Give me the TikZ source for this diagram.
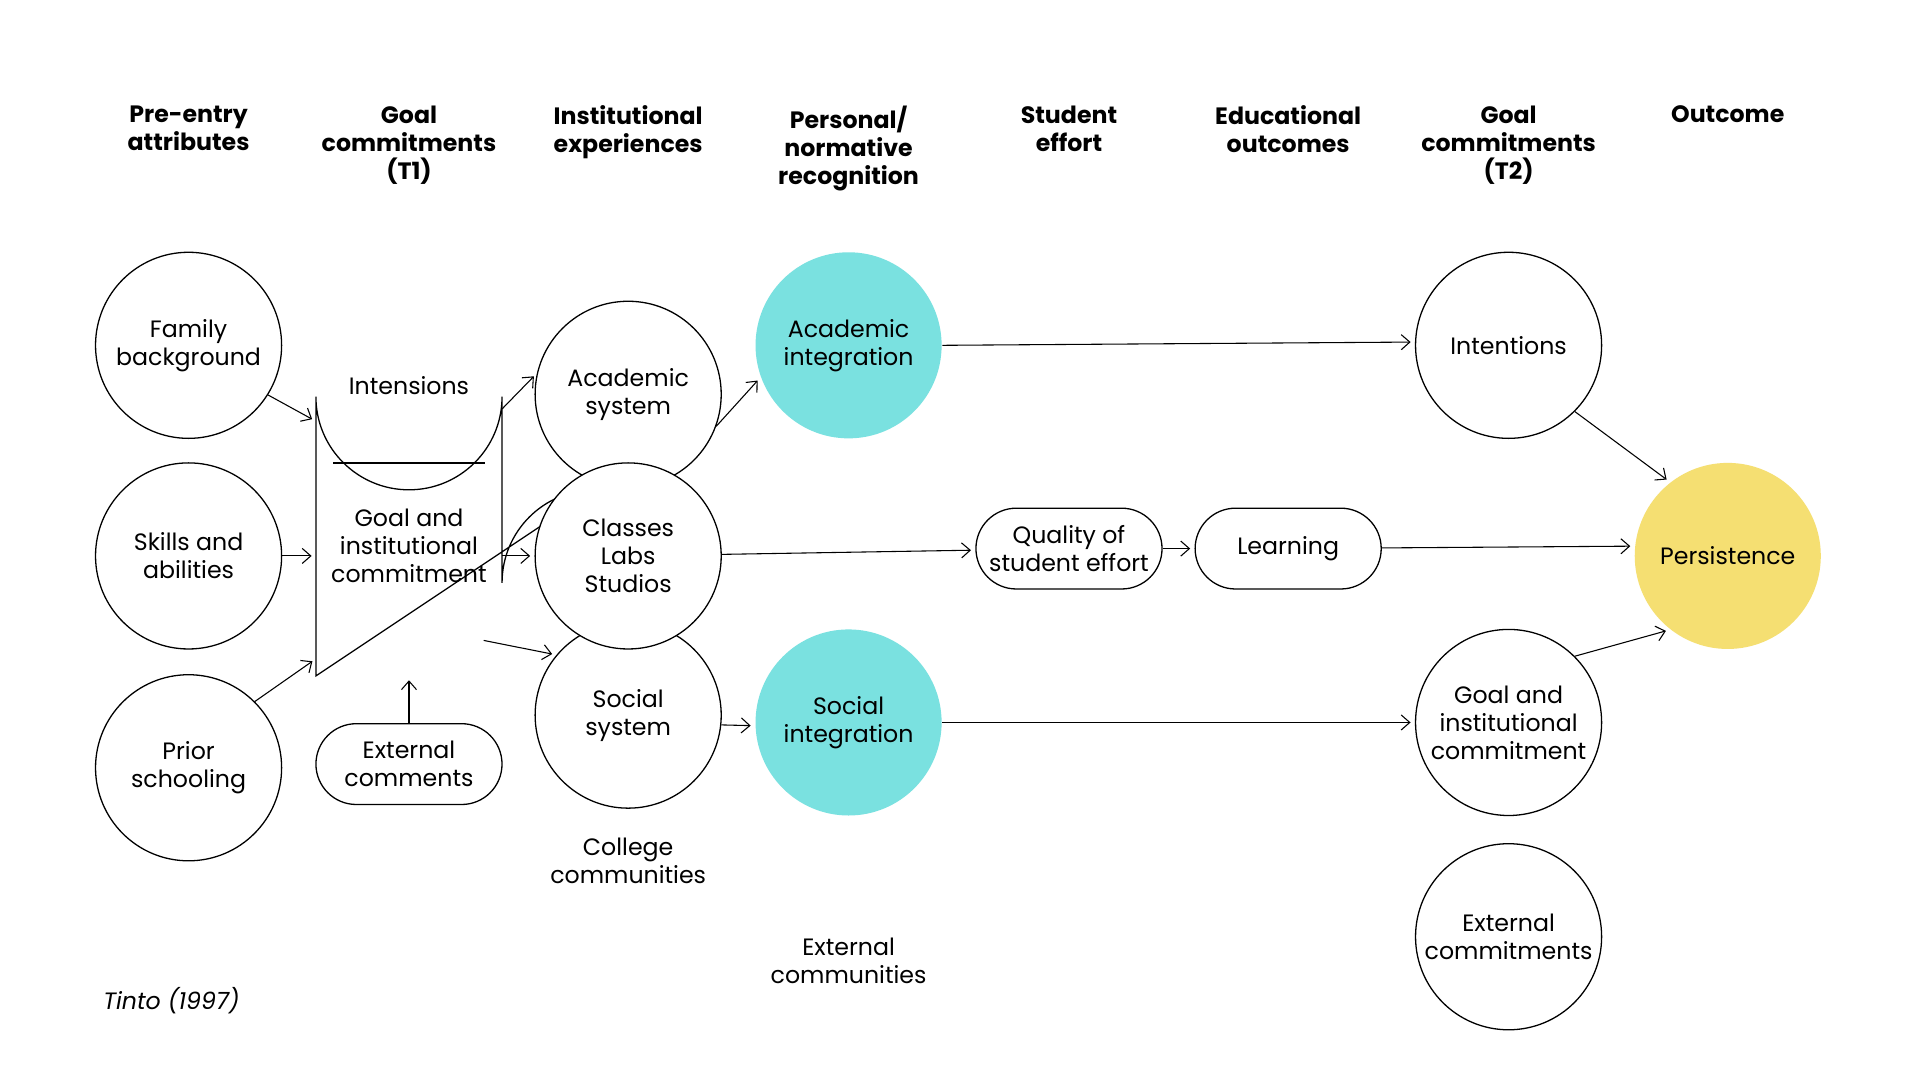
\documentclass[tikz,border=0pt]{standalone}
\usepackage{fontspec}
\setmainfont{Poppins}
\usetikzlibrary{arrows.meta}
\definecolor{integ}{HTML}{7AE1E0}
\definecolor{persist}{HTML}{F5DF72}
\begin{document}
\begin{tikzpicture}[x=0.02cm,y=-0.02cm,
  every node/.style={font=\fontsize{11}{13}\selectfont,align=center},
  circ/.style={shape=circle,draw=black,fill=white,minimum size=3.04cm,inner sep=0pt},
  pill/.style={shape=rectangle,draw=black,fill=white,rounded corners=0.66cm,minimum width=3.04cm,minimum height=1.32cm,inner sep=0pt},
  head/.style={font=\fontsize{11}{13}\selectfont\bfseries,anchor=north},
  flow/.style={draw=black,-{Straight Barb[length=4pt,width=7pt]},line width=0.5pt,shorten >=2pt},
  line width=0.6pt
]
  \useasboundingbox[fill=white] (0,0) rectangle (1568,880);
  % headers
  \node[head] (h1) at (154,80) {Pre-entry\\attributes};
  \node[head] (h2) at (334,80) {Goal\\commitments\\(T1)};
  \node[head] (h3) at (513,80) {Institutional\\experiences};
  \node[head] (h4) at (693,80) {Personal/\\normative\\recognition};
  \node[head] (h5) at (873,80) {Student\\effort};
  \node[head] (h6) at (1052,80) {Educational\\outcomes};
  \node[head] (h7) at (1232,80) {Goal\\commitments\\(T2)};
  \node[head] (h8) at (1411,80) {Outcome};

  % pre-entry
  \node[circ] (family) at (154,282) {Family\\background};
  \node[circ] (skills) at (154,454) {Skills and\\abilities};
  \node[circ] (prior)  at (154,627) {Prior\\schooling};

  % goal commitments T1
  \draw (258,552) -- (258,324) arc[start angle=180,end angle=0,radius=76]
        -- (410,476) arc[start angle=0,end angle=90,radius=-76] -- cycle;
  \draw (272,378) -- (396,378);
  \node (intens) at (334,315) {Intensions};
  \node (goalT1) at (334,446) {Goal and\\institutional\\commitment};
  \coordinate (t1a) at (258,344);
  \coordinate (t1b) at (258,454);
  \coordinate (t1c) at (258,538);
  \coordinate (t1bot) at (334,552);
  \node[pill] (extc) at (334,624) {External\\comments};

  \draw[flow] (family.-32) -- (t1a);
  \draw[flow] (skills) -- (t1b);
  \draw[flow] (prior.45) -- (t1c);
  \draw[flow] (extc) -- (t1bot);

  % institutional experiences
  \node[circ] (acadsys) at (513,322) {Academic\\system};
  \node[circ] (socsys)  at (513,584) {Social\\system};
  \node[circ] (classes) at (513,454) {Classes\\Labs\\Studios};
  \node (college) at (513,703) {College\\communities};

  \coordinate (t1r1) at (410,334);
  \coordinate (t1r2) at (410,454);
  \coordinate (t1r3) at (395,523);
  \draw[flow] (t1r1) -- (acadsys.167);
  \draw[flow] (t1r2) -- (classes);
  \draw[flow] (t1r3) -- (socsys.140);

  % recognition
  \node[circ,draw=none,fill=integ] (acadint) at (693,282) {Academic\\integration};
  \node[circ,draw=none,fill=integ] (socint)  at (693,590) {Social\\integration};
  \node (extcom) at (693,785) {External\\communities};

  \draw[flow] (acadsys.-20) -- (acadint.-160);
  \draw[flow] (socsys.-6) -- (socint.-178);

  % effort and outcomes
  \node[pill] (quality)  at (873,448) {Quality of\\student effort};
  \node[pill] (learning) at (1052,448) {Learning};
  \draw[flow] (classes) -- (quality);
  \draw[flow] (quality) -- (learning);

  % goal commitments T2
  \node[circ] (intent)  at (1232,282) {Intentions};
  \node[circ] (goalT2)  at (1232,590) {Goal and\\institutional\\commitment};
  \node[circ] (extcomm) at (1232,765) {External\\commitments};
  \draw[flow] (acadint.east) -- (intent.178);
  \draw[flow] (socint.east) -- (goalT2.west);

  % outcome
  \node[circ,draw=none,fill=persist] (persist) at (1411,454) {Persistence};
  \draw[flow] (learning) -- (persist.174);
  \draw[flow] (intent.-45) -- (persist.128);
  \draw[flow] (goalT2.45) -- (persist.-128);

  \node[anchor=west,font=\fontsize{11}{13}\selectfont\itshape] (src) at (78,817) {Tinto (1997)};
\end{tikzpicture}
\end{document}
